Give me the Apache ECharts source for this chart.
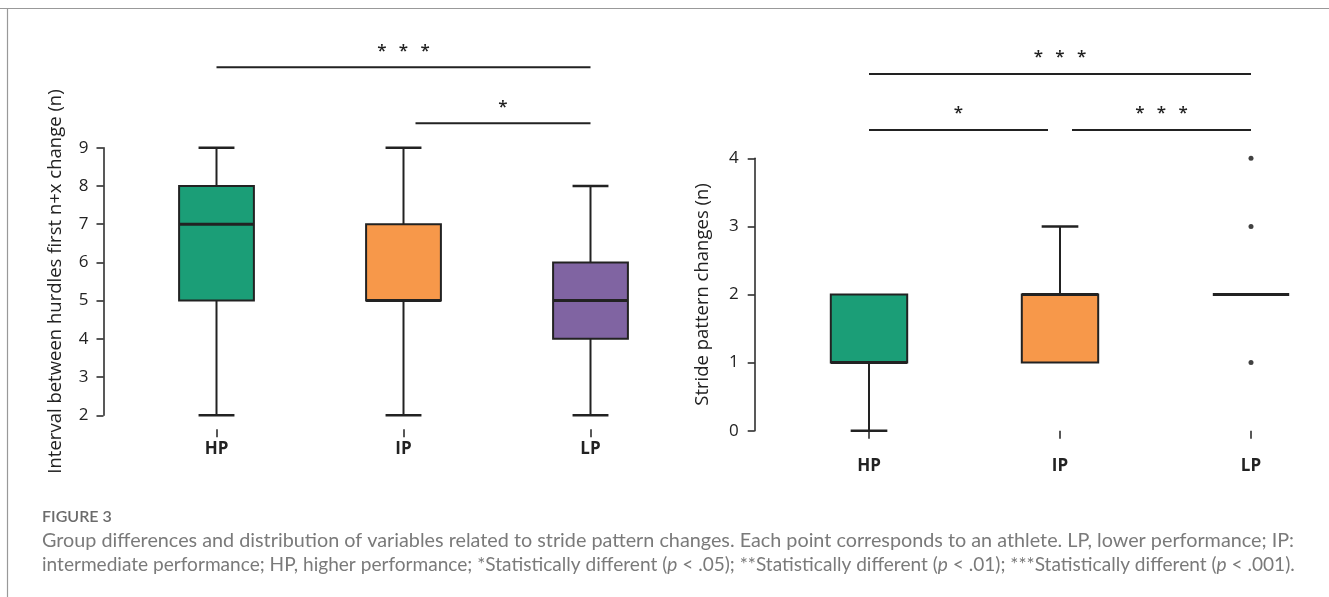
<!DOCTYPE html>
<html>
<head>
<meta charset="utf-8">
<script src="https://cdn.jsdelivr.net/npm/echarts@6/dist/echarts.min.js"></script>
<style>
  html, body { margin: 0; padding: 0; background: #fff; }
  #chart { width: 1329px; height: 597px; }
</style>
</head>
<body>
<div id="chart"></div>
<script>
const categories = ['HP', 'IP', 'LP'];
// [min, Q1, median, Q3, max] per group
const intervalBoxes = [[2, 5, 7, 8, 9], [2, 5, 5, 7, 9], [2, 4, 5, 6, 8]];
const strideBoxes = [[0, 1, 1, 2, 2], [1, 1, 2, 2, 3], [2, 2, 2, 2, 2]];
const strideOutliers = [['LP', 4], ['LP', 3], ['LP', 1]];
const groupColors = ['#1b9e77', '#f7984a', '#8064a2'];
const intervalRange = [2, 9];
const strideRange = [0, 4];
// [from, to, stars, tier]
const intervalSig = [['HP', 'LP', '***', 2], ['IP', 'LP', '*', 1]];
const strideSig = [['HP', 'LP', '***', 2], ['HP', 'IP', '*', 1], ['IP', 'LP', '***', 1]];
const intervalTitle = 'Interval between hurdles first n+x change (n)';
const strideTitle = 'Stride pattern changes (n)';
const captionHead = 'FIGURE 3';
const captionLine1 = 'Group differences and distribution of variables related to stride pattern changes. Each point corresponds to an athlete. LP, lower performance; IP:';
const captionLine2 = [
  ['n', 'intermediate performance; HP, higher performance; *Statistically different ('], ['i', 'p'],
  ['n', ' < .05); **Statistically different ('], ['i', 'p'],
  ['n', ' < .01); ***Statistically different ('], ['i', 'p'],
  ['n', ' < .001).']
];

const INK = '#222';
const FONT = 'Open Sans';
const CAP_FONT = 'Lato';
const CAP_COLOR = '#7a7a7a';

const chart = echarts.init(document.getElementById('chart'), null, { renderer: 'canvas' });

function boxItem(params, api) {
  const i = api.value(0);
  const low = api.coord([i, api.value(1)]);
  const q1 = api.coord([i, api.value(2)]);
  const med = api.coord([i, api.value(3)]);
  const q3 = api.coord([i, api.value(4)]);
  const high = api.coord([i, api.value(5)]);
  const bw = api.size([1, 0])[0] * 0.4;
  const cw = bw * 0.48;
  const cx = med[0];
  const line = { stroke: INK, lineWidth: 2 };
  const kids = [];
  if (high[1] < q3[1] - 0.5) {
    kids.push({ type: 'line', shape: { x1: cx, y1: q3[1], x2: cx, y2: high[1] }, style: line });
    kids.push({ type: 'line', shape: { x1: cx - cw / 2, y1: high[1], x2: cx + cw / 2, y2: high[1] }, style: { stroke: INK, lineWidth: 2.5 } });
  }
  if (low[1] > q1[1] + 0.5) {
    kids.push({ type: 'line', shape: { x1: cx, y1: q1[1], x2: cx, y2: low[1] }, style: line });
    kids.push({ type: 'line', shape: { x1: cx - cw / 2, y1: low[1], x2: cx + cw / 2, y2: low[1] }, style: { stroke: INK, lineWidth: 2.5 } });
  }
  if (q1[1] - q3[1] > 0.5) {
    kids.push({
      type: 'rect',
      shape: { x: cx - bw / 2, y: q3[1], width: bw, height: q1[1] - q3[1] },
      style: { fill: groupColors[params.dataIndex], stroke: INK, lineWidth: 2 }
    });
  }
  kids.push({ type: 'line', shape: { x1: cx - bw / 2, y1: med[1], x2: cx + bw / 2, y2: med[1] }, style: { stroke: INK, lineWidth: 3 } });
  return { type: 'group', children: kids };
}

function yAxisOpt(gridIndex, range, name, offset, margin, nameGap) {
  return {
    type: 'value', gridIndex, min: range[0], max: range[1], interval: 1,
    offset, name, nameLocation: 'middle', nameGap,
    nameTextStyle: { fontFamily: FONT, fontSize: 18.5, color: INK },
    splitLine: { show: false },
    axisLine: { show: true, lineStyle: { color: INK, width: 1.5 } },
    axisTick: { show: true, length: 7, lineStyle: { color: INK, width: 1.5 } },
    axisLabel: { fontFamily: FONT, fontSize: 17, color: INK, margin }
  };
}

function xAxisOpt(gridIndex, offset, margin) {
  return {
    type: 'category', gridIndex, data: categories, offset,
    axisLine: { show: false },
    axisTick: { show: true, alignWithLabel: true, length: 8, lineStyle: { color: INK, width: 1.5 } },
    axisLabel: { fontFamily: FONT, fontSize: 17, fontWeight: 'bold', color: INK, margin }
  };
}

const option = {
  backgroundColor: '#fff',
  animation: false,
  grid: [
    { left: 123, top: 147.7, width: 561, height: 267.6, outerBoundsMode: 'none' },
    { left: 773.5, top: 158.3, width: 573, height: 272.4, outerBoundsMode: 'none' }
  ],
  xAxis: [xAxisOpt(0, 14, 11), xAxisOpt(1, 13.5, 13)],
  yAxis: [
    yAxisOpt(0, intervalRange, intervalTitle, 19.5, 15, 38),
    yAxisOpt(1, strideRange, strideTitle, 18.8, 16, 42)
  ],
  series: [
    {
      type: 'custom', xAxisIndex: 0, yAxisIndex: 0,
      renderItem: boxItem, encode: { x: 0, y: [1, 2, 3, 4, 5] },
      data: intervalBoxes.map((b, i) => [i].concat(b))
    },
    {
      type: 'custom', xAxisIndex: 1, yAxisIndex: 1,
      renderItem: boxItem, encode: { x: 0, y: [1, 2, 3, 4, 5] },
      data: strideBoxes.map((b, i) => [i].concat(b))
    },
    {
      type: 'scatter', xAxisIndex: 1, yAxisIndex: 1,
      symbol: 'circle', symbolSize: 5, itemStyle: { color: '#111' },
      data: strideOutliers
    }
  ]
};
chart.setOption(option);

// significance brackets, placed through the axes
function sigGraphics(sigs, g, range, base, step) {
  const topY = chart.convertToPixel({ yAxisIndex: g }, range[1]);
  const middle = categories[1];
  const els = [];
  sigs.forEach(([from, to, stars, tier]) => {
    let x1 = chart.convertToPixel({ xAxisIndex: g }, from);
    let x2 = chart.convertToPixel({ xAxisIndex: g }, to);
    if (from === middle) x1 += 12;
    if (to === middle) x2 -= 12;
    const y = topY - base - (tier - 1) * step;
    els.push({ type: 'line', shape: { x1, y1: y, x2, y2: y }, style: { stroke: INK, lineWidth: 2 } });
    const n = stars.length;
    const mid = (x1 + x2) / 2;
    for (let k = 0; k < n; k++) {
      els.push({
        type: 'text', x: mid + (k - (n - 1) / 2) * 21.7, y: y - 20 + 3.5,
        style: { text: '*', font: '600 17px "Open Sans"', fill: INK, align: 'center', verticalAlign: 'middle' }
      });
    }
  });
  return els;
}

// caption fitted to the frame width
const ctx = document.createElement('canvas').getContext('2d');
function measure(size, parts) {
  return parts.reduce((w, [k, t]) => {
    ctx.font = (k === 'i' ? 'italic ' : '') + size + 'px ' + CAP_FONT;
    return w + ctx.measureText(t).width;
  }, 0);
}
const capW = 1253;
const capSize = 18 * capW / measure(18, [['n', captionLine1]]);
const cap2Size = 18 * (capW + 1) / measure(18, captionLine2);

const frame = [
  { type: 'line', shape: { x1: 0, y1: 8.5, x2: 1329, y2: 8.5 }, style: { stroke: '#999', lineWidth: 1.2 } },
  { type: 'line', shape: { x1: 7.5, y1: 8.5, x2: 7.5, y2: 597 }, style: { stroke: '#999', lineWidth: 1.2 } }
];
const caption = [
  { type: 'text', x: 42, y: 517, style: { text: captionHead, font: '600 16px ' + CAP_FONT, fill: '#6b6b6b', verticalAlign: 'middle' } },
  { type: 'text', x: 42, y: 541, style: { text: captionLine1, font: capSize + 'px ' + CAP_FONT, fill: CAP_COLOR, verticalAlign: 'middle' } },
  {
    type: 'text', x: 42, y: 565,
    style: {
      text: captionLine2.map(([k, t]) => '{' + k + '|' + t + '}').join(''),
      verticalAlign: 'middle',
      rich: {
        n: { fontFamily: CAP_FONT, fontSize: cap2Size, fill: CAP_COLOR },
        i: { fontFamily: CAP_FONT, fontSize: cap2Size, fontStyle: 'italic', fill: CAP_COLOR }
      }
    }
  }
];

chart.setOption({
  graphic: frame
    .concat(sigGraphics(intervalSig, 0, intervalRange, 24.4, 56))
    .concat(sigGraphics(strideSig, 1, strideRange, 28.3, 56))
    .concat(caption)
});
</script>
</body>
</html>
